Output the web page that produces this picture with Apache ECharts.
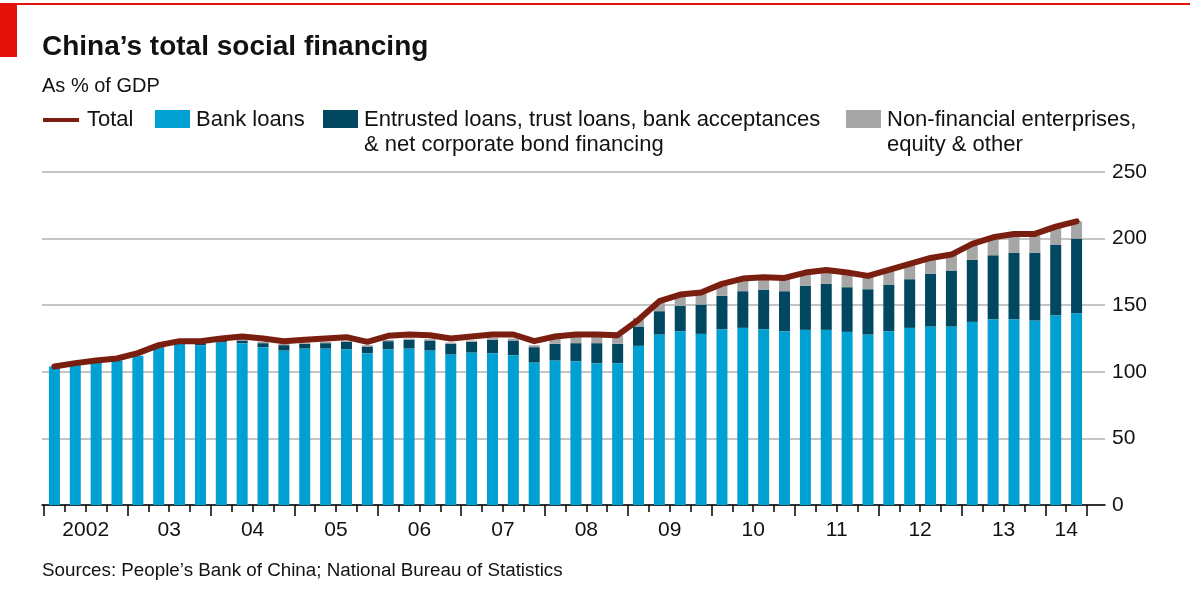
<!DOCTYPE html>
<html>
<head>
<meta charset="utf-8">
<script src="https://cdn.jsdelivr.net/npm/echarts@6/dist/echarts.min.js"></script>
<style>
  html, body { margin: 0; padding: 0; background: #fff; }
  #main { width: 1190px; height: 596px; }
</style>
</head>
<body>
<div id="main"></div>
<script>
// quarterly data, 2002 Q1 - 2014 Q2, % of GDP
const quarters = [
  '2002Q1','2002Q2','2002Q3','2002Q4','2003Q1','2003Q2','2003Q3','2003Q4',
  '2004Q1','2004Q2','2004Q3','2004Q4','2005Q1','2005Q2','2005Q3','2005Q4',
  '2006Q1','2006Q2','2006Q3','2006Q4','2007Q1','2007Q2','2007Q3','2007Q4',
  '2008Q1','2008Q2','2008Q3','2008Q4','2009Q1','2009Q2','2009Q3','2009Q4',
  '2010Q1','2010Q2','2010Q3','2010Q4','2011Q1','2011Q2','2011Q3','2011Q4',
  '2012Q1','2012Q2','2012Q3','2012Q4','2013Q1','2013Q2','2013Q3','2013Q4',
  '2014Q1','2014Q2'
];
const yearLabels = ['2002','03','04','05','06','07','08','09','10','11','12','13','14'];

const bankLoans = [104,106,107.5,108.5,112,118,121,120,122,121.5,118.5,116,117.5,117.5,117,114,
  117,117.5,116,113,114.5,114,112.5,107,108.5,108,106.5,106.5,119.5,128,130.5,128.5,
  132,133,132,130.5,131.5,131.5,130,128,130.5,133,134,134,137.5,139.5,139.5,138.5,142.5,144];
const entrusted = [0,0,0,0,0,0.5,0.5,1.5,1.5,2,3,4,3.5,4,5.5,5,
  6,6.5,7.5,8,8,10,11,11.5,12.5,13.5,15,14.5,14.5,17.5,19,22,
  25,27.5,29.5,30,33,34.5,33.5,34,35,36.5,39.5,42,46.5,48,50,51,53,56];
const otherFin = [0,0,0,0,0,0.5,0.5,0.5,0.5,1,1,1,1,1,1,1,
  1,1,1,1,1,1.5,1.5,1.5,4.5,5.5,5.5,6,6.5,6.5,7,8,
  8,9,8.5,10,9.5,10,10.5,10.5,10.5,11,11.5,12,11.5,11.5,12,12.5,13.5,13];
const total = [104,106.5,108.5,110,114,120,123,123,125,126.5,125,123,124,125,126,122.5,
  127,128,127.5,125,126.5,128,128,123,126.5,128,128,127.5,139,153,158,159.5,
  166,170,171,170.5,174.5,176.5,174.5,172,176.5,181,185.5,188,196,201,203.5,203.5,209,213];

const titleText = 'China’s total social financing';
const subtitleText = 'As % of GDP';
const sourceText = 'Sources: People’s Bank of China; National Bureau of Statistics';

const FONT = '"Liberation Sans", Arial, sans-serif';
const TXT = '#121212';
const C_TOTAL = '#7a1e10', C_BANK = '#00a0d2', C_ENT = '#00475f', C_OTH = '#a6a6a6';

// tick positions on a 0..N quarter scale
const yearBounds = [];
const yearMids = [];
for (let i = 0; i < yearLabels.length; i++) {
  const start = i * 4;
  const end = Math.min(start + 4, quarters.length);
  yearBounds.push(start);
  yearMids.push((start + end) / 2);
}
yearBounds.push(quarters.length);
const quarterBounds = quarters.map((q, i) => i).concat([quarters.length]);

const legendItems = [
  { kind: 'line', color: C_TOTAL, x: 43, lines: ['Total'] },
  { kind: 'box', color: C_BANK, x: 155, lines: ['Bank loans'] },
  { kind: 'box', color: C_ENT, x: 323, lines: ['Entrusted loans, trust loans, bank acceptances', '& net corporate bond financing'] },
  { kind: 'box', color: C_OTH, x: 846, lines: ['Non-financial enterprises,', 'equity & other'] }
];

const graphic = [
  { type: 'rect', shape: { x: 0, y: 3, width: 1190, height: 2 }, style: { fill: '#e3120b' } },
  { type: 'rect', shape: { x: 0, y: 3, width: 17, height: 54 }, style: { fill: '#e3120b' } },
  { type: 'text', x: 42, y: 47, style: { text: titleText, font: 'bold 28px ' + FONT, fill: TXT, verticalAlign: 'middle' } },
  { type: 'text', x: 42, y: 86, style: { text: subtitleText, font: '20px ' + FONT, fill: TXT, verticalAlign: 'middle' } },
  { type: 'text', x: 42, y: 571, style: { text: sourceText, font: '18.8px ' + FONT, fill: TXT, verticalAlign: 'middle' } }
];
legendItems.forEach(it => {
  let tx;
  if (it.kind === 'line') {
    graphic.push({ type: 'rect', shape: { x: it.x, y: 118, width: 36, height: 4 }, style: { fill: it.color } });
    tx = it.x + 44;
  } else {
    graphic.push({ type: 'rect', shape: { x: it.x, y: 110, width: 35, height: 18 }, style: { fill: it.color } });
    tx = it.x + 41;
  }
  it.lines.forEach((ln, k) => {
    graphic.push({ type: 'text', x: tx, y: 120 + k * 25, style: { text: ln, font: '22px ' + FONT, fill: TXT, verticalAlign: 'middle' } });
  });
});

const chart = echarts.init(document.getElementById('main'));
chart.setOption({
  animation: false,
  backgroundColor: '#fff',
  graphic: graphic,
  grid: [
    { left: 42, right: 85, top: 172, bottom: 91 },
    { left: 44, right: 103, top: 172, bottom: 91 }
  ],
  xAxis: [
    { gridIndex: 0, type: 'value', min: 0, max: 1, position: 'bottom',
      axisLine: { show: true, onZero: false, lineStyle: { color: '#000', width: 1.5 } },
      axisTick: { show: false }, axisLabel: { show: false }, splitLine: { show: false } },
    { gridIndex: 1, type: 'category', data: quarters, position: 'bottom', show: false },
    { gridIndex: 1, type: 'value', min: 0, max: quarters.length, position: 'bottom',
      axisLine: { show: false, onZero: false }, splitLine: { show: false }, axisLabel: { show: false },
      axisTick: { show: true, customValues: quarterBounds, length: 7, lineStyle: { color: '#000', width: 1.5 } } },
    { gridIndex: 1, type: 'value', min: 0, max: quarters.length, position: 'bottom',
      axisLine: { show: false, onZero: false }, splitLine: { show: false },
      axisTick: { show: true, customValues: yearBounds, length: 11, lineStyle: { color: '#000', width: 1.5 } },
      axisLabel: { show: true, customValues: yearMids, margin: 15, fontFamily: FONT, fontSize: 21, color: TXT,
        formatter: v => yearLabels[yearMids.indexOf(v)] } }
  ],
  yAxis: [
    { gridIndex: 0, type: 'value', position: 'right', min: 0, max: 250, interval: 50,
      axisLine: { show: false }, axisTick: { show: false },
      axisLabel: { margin: 7, fontFamily: FONT, fontSize: 21, color: TXT },
      splitLine: { lineStyle: { color: '#c4c4c4', width: 2 } } },
    { gridIndex: 1, type: 'value', min: 0, max: 250, show: false, splitLine: { show: false } }
  ],
  series: [
    { name: 'Bank loans', type: 'bar', stack: 'tsf', xAxisIndex: 1, yAxisIndex: 1, barWidth: 11,
      itemStyle: { color: C_BANK }, data: bankLoans },
    { name: 'Entrusted loans', type: 'bar', stack: 'tsf', xAxisIndex: 1, yAxisIndex: 1, barWidth: 11,
      itemStyle: { color: C_ENT }, data: entrusted },
    { name: 'Other', type: 'bar', stack: 'tsf', xAxisIndex: 1, yAxisIndex: 1, barWidth: 11,
      itemStyle: { color: C_OTH }, data: otherFin },
    { name: 'Total', type: 'line', xAxisIndex: 1, yAxisIndex: 1, symbol: 'none', z: 5,
      lineStyle: { color: C_TOTAL, width: 6, cap: 'round', join: 'round' }, data: total }
  ]
});
</script>
</body>
</html>
